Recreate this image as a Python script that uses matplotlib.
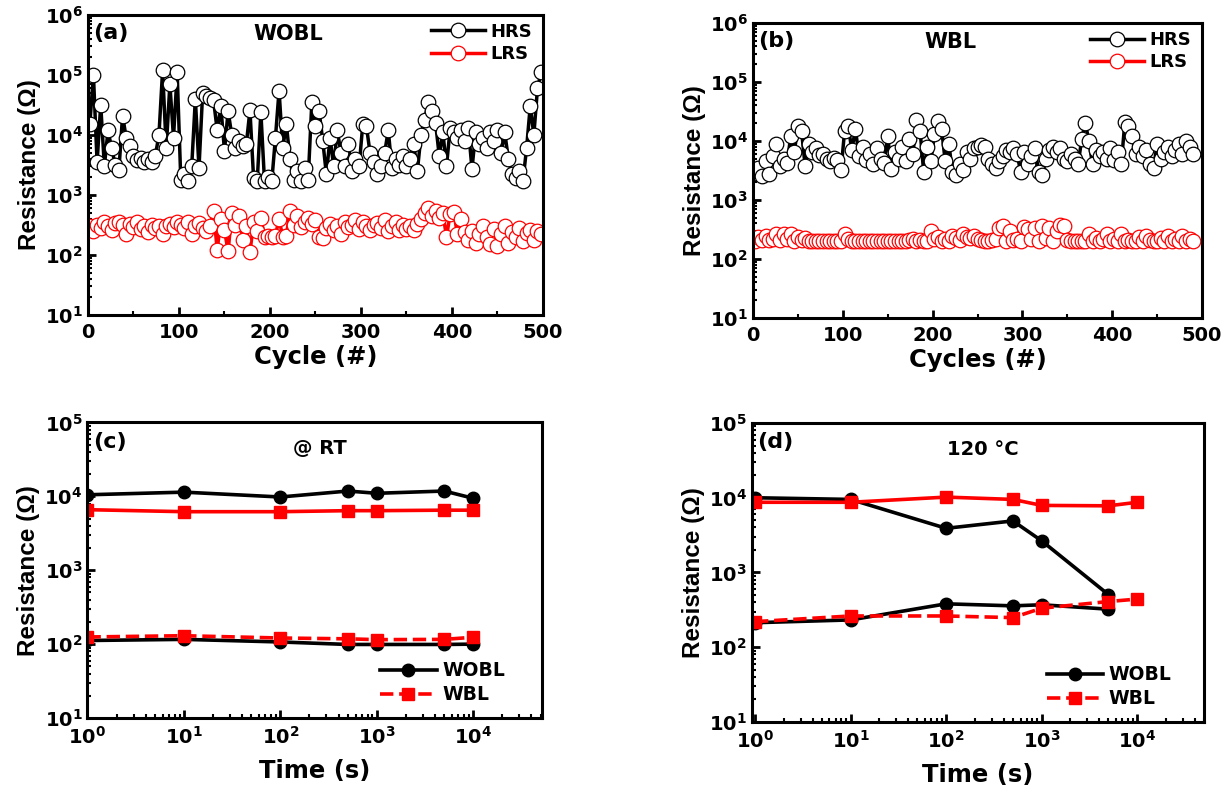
import numpy as np
import matplotlib
matplotlib.use('Agg')
import matplotlib.pyplot as plt
from matplotlib.ticker import FuncFormatter, MultipleLocator, NullFormatter, LogLocator

plt.rcParams['font.family'] = 'DejaVu Sans'
plt.rcParams['font.weight'] = 'bold'
plt.rcParams['mathtext.fontset'] = 'custom'
plt.rcParams['mathtext.bf'] = 'DejaVu Sans:bold'
plt.rcParams['mathtext.rm'] = 'DejaVu Sans:bold'

# ---------------- data ----------------
# (a) WOBL endurance, read every 4th cycle
cyc_a = np.arange(2, 499, 4)
hrs_a = [1.5e4, 1.0e5, 3.5e3, 3.2e4, 3.0e3, 1.2e4, 6.0e3, 3.2e3, 2.6e3, 2.1e4,
         9.0e3, 6.5e3, 4.5e3, 3.8e3, 4.2e3, 3.5e3, 4.0e3, 3.6e3, 4.5e3, 1.0e4,
         1.2e5, 6.0e3, 7.0e4, 9.0e3, 1.1e5, 1.8e3, 2.2e3, 1.7e3, 3.0e3, 4.0e4,
         2.8e3, 5.0e4, 4.5e4, 4.2e4, 3.8e4, 1.2e4, 3.0e4, 5.5e3, 2.5e4, 1.0e4,
         6.0e3, 8.0e3, 6.5e3, 7.0e3, 2.6e4, 1.9e3, 1.7e3, 2.4e4, 1.7e3, 2.0e3,
         1.7e3, 9.0e3, 5.5e4, 6.0e3, 1.5e4, 4.0e3, 1.8e3, 2.5e3, 1.7e3, 2.8e3,
         1.8e3, 3.5e4, 1.4e4, 2.5e4, 8.0e3, 2.2e3, 9.0e3, 3.0e3, 1.2e4, 5.0e3,
         3.0e3, 7.0e3, 2.5e3, 4.0e3, 3.0e3, 1.5e4, 1.4e4, 5.0e3, 3.5e3, 2.2e3,
         3.0e3, 5.0e3, 1.2e4, 2.8e3, 4.0e3, 3.2e3, 4.5e3, 3.0e3, 4.0e3, 7.0e3,
         2.5e3, 1.0e4, 1.8e4, 3.5e4, 2.5e4, 1.6e4, 4.5e3, 1.1e4, 3.0e3, 1.3e4,
         1.1e4, 9.0e3, 1.2e4, 8.0e3, 1.3e4, 2.7e3, 1.1e4, 7.0e3, 9.0e3, 6.0e3,
         1.1e4, 8.0e3, 1.2e4, 5.0e3, 1.1e4, 4.0e3, 2.2e3, 1.9e3, 2.5e3, 1.7e3,
         6.0e3, 3.0e4, 1.0e4, 6.0e4, 1.1e5]
lrs_a = [3.0e2, 2.5e2, 3.2e2, 2.8e2, 3.5e2, 3.0e2, 2.6e2, 3.4e2, 3.6e2, 3.1e2,
         2.2e2, 3.3e2, 2.9e2, 3.5e2, 2.7e2, 3.0e2, 2.4e2, 3.2e2, 2.8e2, 3.0e2,
         2.2e2, 3.0e2, 3.3e2, 2.9e2, 3.5e2, 3.2e2, 2.8e2, 3.6e2, 2.2e2, 3.0e2,
         3.4e2, 2.8e2, 2.5e2, 3.0e2, 5.5e2, 1.2e2, 4.0e2, 2.6e2, 1.15e2, 5.0e2,
         3.2e2, 4.5e2, 1.8e2, 3.0e2, 1.1e2, 3.5e2, 2.5e2, 4.2e2, 2.0e2, 2.1e2,
         2.0e2, 2.1e2, 4.0e2, 2.0e2, 2.1e2, 5.5e2, 3.2e2, 4.5e2, 2.9e2, 3.6e2,
         4.2e2, 3.3e2, 3.8e2, 2.0e2, 1.9e2, 2.8e2, 3.3e2, 2.6e2, 3.0e2, 2.2e2,
         3.5e2, 2.9e2, 3.1e2, 3.8e2, 2.7e2, 3.6e2, 3.0e2, 2.6e2, 3.2e2, 3.4e2,
         2.8e2, 3.8e2, 2.5e2, 3.0e2, 3.5e2, 2.6e2, 3.2e2, 2.7e2, 3.0e2, 2.6e2,
         3.3e2, 4.0e2, 5.0e2, 6.0e2, 4.5e2, 5.5e2, 4.2e2, 5.0e2, 2.0e2, 4.8e2,
         5.2e2, 2.2e2, 4.0e2, 2.4e2, 1.8e2, 2.5e2, 1.6e2, 2.2e2, 3.0e2, 2.0e2,
         1.5e2, 2.7e2, 1.4e2, 2.2e2, 3.0e2, 1.6e2, 2.4e2, 2.0e2, 2.8e2, 1.7e2,
         2.3e2, 2.6e2, 1.8e2, 2.5e2, 2.2e2]

# (b) WBL endurance
cyc_b = np.arange(2, 491, 4)
hrs_b = [2.9e3, 3.5e3, 2.5e3, 4.5e3, 2.8e3, 5.5e3, 9.0e3, 3.8e3, 5.0e3, 4.2e3,
         1.2e4, 6.5e3, 1.8e4, 1.5e4, 3.8e3, 9.0e3, 6.5e3, 7.5e3, 5.8e3, 6.0e3,
         5.0e3, 4.5e3, 5.2e3, 4.8e3, 3.2e3, 1.5e4, 1.8e4, 7.0e3, 1.6e4, 5.5e3,
         8.0e3, 4.8e3, 6.0e3, 4.0e3, 7.5e3, 5.0e3, 4.2e3, 1.2e4, 3.3e3, 6.5e3,
         5.0e3, 8.0e3, 4.5e3, 1.1e4, 6.0e3, 2.3e4, 1.5e4, 3.0e3, 8.0e3, 4.5e3,
         1.3e4, 2.2e4, 1.6e4, 4.5e3, 9.0e3, 3.0e3, 2.7e3, 4.0e3, 3.2e3, 6.5e3,
         5.0e3, 7.5e3, 8.0e3, 8.5e3, 8.0e3, 5.0e3, 4.0e3, 3.5e3, 4.5e3, 5.5e3,
         7.0e3, 6.5e3, 7.5e3, 6.0e3, 3.0e3, 6.5e3, 4.0e3, 5.5e3, 7.5e3, 3.0e3,
         2.6e3, 5.0e3, 7.0e3, 8.0e3, 6.5e3, 7.5e3, 5.0e3, 4.5e3, 6.0e3, 5.0e3,
         4.0e3, 1.1e4, 2.0e4, 1.0e4, 4.0e3, 7.0e3, 5.5e3, 6.5e3, 5.0e3, 7.5e3,
         4.8e3, 6.5e3, 4.0e3, 2.1e4, 1.8e4, 1.2e4, 6.0e3, 8.0e3, 5.5e3, 7.0e3,
         4.0e3, 3.5e3, 9.0e3, 5.0e3, 6.5e3, 8.0e3, 5.5e3, 7.0e3, 9.0e3, 6.0e3,
         1.0e4, 8.0e3, 6.0e3]
lrs_b = [2.0e2, 2.4e2, 2.1e2, 2.5e2, 2.1e2, 2.2e2, 2.7e2, 2.1e2, 2.6e2, 2.2e2,
         2.6e2, 2.0e2, 2.4e2, 2.1e2, 2.3e2, 2.0e2, 2.0e2, 2.0e2, 2.0e2, 2.0e2,
         2.0e2, 2.0e2, 2.0e2, 2.0e2, 2.0e2, 2.6e2, 2.2e2, 2.0e2, 2.0e2, 2.0e2,
         2.0e2, 2.0e2, 2.0e2, 2.0e2, 2.0e2, 2.0e2, 2.0e2, 2.0e2, 2.0e2, 2.0e2,
         2.0e2, 2.0e2, 2.0e2, 2.1e2, 2.2e2, 2.0e2, 2.1e2, 2.0e2, 2.0e2, 3.0e2,
         2.2e2, 2.4e2, 2.0e2, 2.2e2, 2.0e2, 2.5e2, 2.3e2, 2.1e2, 2.6e2, 2.4e2,
         2.3e2, 2.5e2, 2.2e2, 2.1e2, 2.0e2, 2.0e2, 2.1e2, 2.2e2, 3.4e2, 3.6e2,
         2.0e2, 3.0e2, 2.1e2, 2.2e2, 2.0e2, 3.5e2, 3.2e2, 2.2e2, 3.4e2, 2.0e2,
         3.6e2, 2.3e2, 3.3e2, 2.0e2, 3.0e2, 3.8e2, 3.6e2, 2.1e2, 2.0e2, 2.0e2,
         2.0e2, 2.0e2, 2.0e2, 2.6e2, 2.0e2, 2.3e2, 2.0e2, 2.2e2, 2.7e2, 2.0e2,
         2.2e2, 2.0e2, 2.6e2, 2.0e2, 2.1e2, 2.0e2, 2.0e2, 2.4e2, 2.0e2, 2.5e2,
         2.1e2, 2.0e2, 2.0e2, 2.3e2, 2.0e2, 2.5e2, 2.0e2, 2.2e2, 2.0e2, 2.5e2,
         2.0e2, 2.2e2, 2.0e2]

# (c) retention at RT
t_c = [1, 10, 100, 500, 1000, 5000, 10000]
wobl_hrs_c = [1.05e4, 1.14e4, 0.98e4, 1.18e4, 1.1e4, 1.18e4, 0.94e4]
wobl_lrs_c = [112, 116, 107, 99, 99, 99, 100]
wbl_hrs_c = [6.6e3, 6.2e3, 6.2e3, 6.4e3, 6.4e3, 6.5e3, 6.5e3]
wbl_lrs_c = [125, 130, 121, 118, 115, 116, 124]

# (d) retention at 120 C
t_d_wobl = [1, 10, 100, 500, 1000, 5000]
wobl_hrs_d = [1.0e4, 0.95e4, 3.9e3, 4.9e3, 2.65e3, 505]
wobl_lrs_d = [213, 232, 381, 358, 370, 323]
t_d_wbl = [1, 10, 100, 500, 1000, 5000, 10000]
wbl_hrs_d = [8.7e3, 8.7e3, 1.02e4, 9.5e3, 7.9e3, 7.8e3, 8.7e3]
wbl_lrs_d = [220, 262, 262, 249, 333, 409, 441]

# ---------------- figure ----------------
fig = plt.figure(figsize=(12.27, 7.92), dpi=100)
ax_a = fig.add_axes([0.0717, 0.6023, 0.3708, 0.3788])
ax_b = fig.add_axes([0.6137, 0.5985, 0.3660, 0.3725])
ax_c = fig.add_axes([0.0713, 0.0934, 0.3708, 0.3732])
ax_d = fig.add_axes([0.6129, 0.0884, 0.3684, 0.3775])


def pow10(v, pos):
    return r'$\mathbf{10^{%d}}$' % round(np.log10(v))


def style(ax):
    ax.set_yscale('log')
    ax.yaxis.set_major_formatter(FuncFormatter(pow10))
    ax.yaxis.set_minor_locator(LogLocator(base=10, subs=np.arange(2, 10), numticks=20))
    ax.yaxis.set_minor_formatter(NullFormatter())
    ax.tick_params(which='both', direction='in', top=False, right=False)
    ax.tick_params(which='major', length=6, width=2, labelsize=14)
    ax.tick_params(which='minor', length=3, width=1.5)
    ax.tick_params(axis='x', which='major', pad=6)
    for s in ax.spines.values():
        s.set_linewidth(2.2)
    ax.set_ylabel('Resistance (\u03a9)', fontfamily='Liberation Sans',
                  fontweight='bold', fontsize=17.5, labelpad=3)


# (a) and (b): endurance
for ax, cyc, hrs, lrs, tag, name, xl in [
        (ax_a, cyc_a, hrs_a, lrs_a, '(a)', 'WOBL', 'Cycle (#)'),
        (ax_b, cyc_b, hrs_b, lrs_b, '(b)', 'WBL', 'Cycles (#)')]:
    ax.plot(cyc, hrs, '-o', color='black', lw=2.5, ms=10.5, mfc='white',
            mec='black', mew=0.9, label='HRS')
    ax.plot(cyc, lrs, '-o', color='red', lw=2.5, ms=10.5, mfc='white',
            mec='red', mew=0.9, label='LRS')
    style(ax)
    ax.set_ylim(10, 1e6)
    ax.set_xlim(0, 500)
    ax.xaxis.set_major_locator(MultipleLocator(100))
    ax.xaxis.set_minor_locator(MultipleLocator(50))
    ax.set_xlabel(xl, fontsize=17.5, fontweight='bold', labelpad=2)
    ax.text(0.012, 0.94, tag, transform=ax.transAxes, fontsize=16,
            fontweight='bold', va='center', ha='left')
    ax.text(0.44, 0.935, name, transform=ax.transAxes, fontsize=15,
            fontweight='bold', va='center', ha='center')
    ax.legend(loc='upper right', bbox_to_anchor=(1.0, 1.01), frameon=False,
              fontsize=13, handlelength=3, handletextpad=0.3,
              labelspacing=0.25, borderaxespad=0.2)

# (c) and (d): retention
for ax, tag, note in [(ax_c, '(c)', '@ RT'), (ax_d, '(d)', '120 \u00b0C')]:
    ax.set_xscale('log')
    style(ax)
    ax.xaxis.set_major_formatter(FuncFormatter(pow10))
    ax.xaxis.set_minor_locator(LogLocator(base=10, subs=np.arange(2, 10), numticks=20))
    ax.xaxis.set_minor_formatter(NullFormatter())
    ax.set_ylim(10, 1e5)
    ax.set_xlabel('Time (s)', fontsize=17.5, fontweight='bold', labelpad=8)
    ax.text(0.012, 0.935, tag, transform=ax.transAxes, fontsize=16,
            fontweight='bold', va='center', ha='left')
    ax.text(0.51, 0.912, note, transform=ax.transAxes, fontsize=14,
            fontweight='bold', va='center', ha='center')

ax_c.set_xlim(1, 5.2e4)
l1, = ax_c.plot(t_c, wobl_hrs_c, '-o', color='black', lw=2.6, ms=9)
ax_c.plot(t_c, wobl_lrs_c, '-o', color='black', lw=2.6, ms=9)
ax_c.plot(t_c, wbl_hrs_c, '-s', color='red', lw=2.6, ms=9)
l2, = ax_c.plot(t_c, wbl_lrs_c, '--s', color='red', lw=2.6, ms=9)
ax_c.legend([l1, l2], ['WOBL', 'WBL'], loc='lower right',
            bbox_to_anchor=(0.955, -0.01), frameon=False, fontsize=13.5,
            handlelength=3, handletextpad=0.3, labelspacing=0.25)

ax_d.set_xlim(0.93, 5.0e4)
l1, = ax_d.plot(t_d_wobl, wobl_hrs_d, '-o', color='black', lw=2.6, ms=9)
ax_d.plot(t_d_wobl, wobl_lrs_d, '-o', color='black', lw=2.6, ms=9)
ax_d.plot(t_d_wbl, wbl_hrs_d, '-s', color='red', lw=2.6, ms=9)
l2, = ax_d.plot(t_d_wbl, wbl_lrs_d, '--s', color='red', lw=2.6, ms=9)
ax_d.legend([l1, l2], ['WOBL', 'WBL'], loc='lower right',
            bbox_to_anchor=(0.965, -0.01), frameon=False, fontsize=13.5,
            handlelength=3, handletextpad=0.3, labelspacing=0.25)

fig.savefig('out.png', dpi=100)
